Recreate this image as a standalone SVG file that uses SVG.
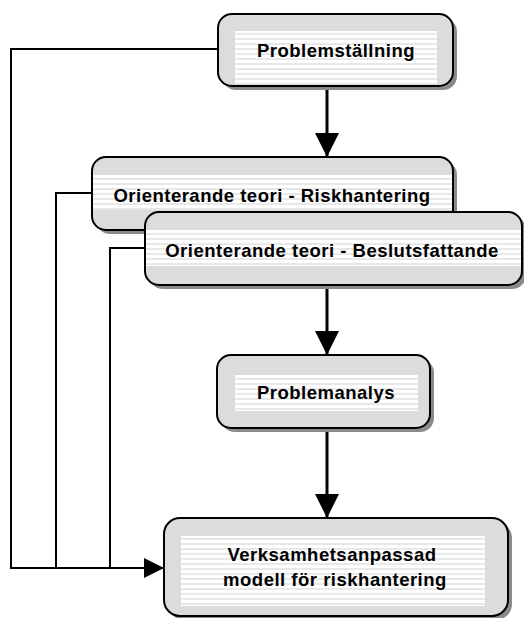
<svg xmlns="http://www.w3.org/2000/svg" width="524" height="618" viewBox="0 0 524 618">
  <defs>
    <pattern id="stripes" patternUnits="userSpaceOnUse" width="8" height="5">
      <rect width="8" height="5" fill="#ffffff"/>
      <rect y="3.5" width="8" height="1" fill="#d2d2d2"/>
    </pattern>
    <marker id="arrow" viewBox="0 0 24 24" refX="24" refY="12" markerWidth="24" markerHeight="24" markerUnits="userSpaceOnUse" orient="auto">
      <path d="M0,0 L24,12 L0,24 Z" fill="#000"/>
    </marker>
    <marker id="arrowSmall" viewBox="0 0 20 20" refX="20" refY="10" markerWidth="20" markerHeight="20" markerUnits="userSpaceOnUse" orient="auto">
      <path d="M0,0 L20,10 L0,20 Z" fill="#000"/>
    </marker>
  </defs>
  <style>
    .shadow { fill: #8a8a8a; }
    .box { fill: #dcdcdc; stroke: #000; stroke-width: 2; }
    .band { fill: url(#stripes); }
    .label { font-family: "Liberation Sans", Arial, sans-serif; font-weight: bold; font-size: 18.5px; fill: #000; text-anchor: middle; letter-spacing: 0.5px; }
    .flow { stroke: #000; stroke-width: 3; fill: none; }
    .feed { stroke: #000; stroke-width: 2; fill: none; }
  </style>
  <rect width="524" height="618" fill="#ffffff"/>

  <!-- connectors -->
  <g id="connectors">
    <path class="flow" d="M327,86 V157" marker-end="url(#arrow)"/>
    <path class="flow" d="M327,285 V355" marker-end="url(#arrow)"/>
    <path class="flow" d="M327,428 V518" marker-end="url(#arrow)"/>
    <path class="feed" d="M218,49 H11 V568 H164" marker-end="url(#arrowSmall)"/>
    <path class="feed" d="M92,193 H56 V568"/>
    <path class="feed" d="M145,248 H110 V568"/>
  </g>

  <g id="problemstallning">
    <rect class="shadow" x="222" y="18" width="235" height="72" rx="14"/>
    <rect class="box" x="218" y="14" width="235" height="72" rx="14"/>
    <rect class="band" x="235" y="31" width="202" height="53"/>
    <text class="label" x="336" y="57">Problemställning</text>
  </g>

  <g id="riskhantering">
    <rect class="shadow" x="96" y="161" width="361" height="73" rx="14"/>
    <rect class="box" x="92" y="157" width="361" height="73" rx="14"/>
    <rect class="band" x="93" y="175" width="359" height="35"/>
    <text class="label" x="272" y="202">Orienterande teori - Riskhantering</text>
  </g>

  <g id="beslutsfattande">
    <rect class="shadow" x="149" y="216" width="377" height="73" rx="14"/>
    <rect class="box" x="145" y="212" width="377" height="73" rx="14"/>
    <rect class="band" x="146" y="230" width="375" height="36"/>
    <text class="label" x="332" y="257">Orienterande teori - Beslutsfattande</text>
  </g>

  <g id="problemanalys">
    <rect class="shadow" x="221" y="359" width="213" height="73" rx="14"/>
    <rect class="box" x="217" y="355" width="213" height="73" rx="14"/>
    <rect class="band" x="235" y="375" width="183" height="36"/>
    <text class="label" x="326" y="399">Problemanalys</text>
  </g>

  <g id="verksamhetsmodell">
    <rect class="shadow" x="168" y="522" width="344" height="98" rx="16"/>
    <rect class="box" x="164" y="518" width="344" height="98" rx="16"/>
    <rect class="band" x="181" y="536" width="304" height="70"/>
    <text class="label" x="332" y="561">Verksamhetsanpassad</text>
    <text class="label" x="335" y="586">modell för riskhantering</text>
  </g>
</svg>
